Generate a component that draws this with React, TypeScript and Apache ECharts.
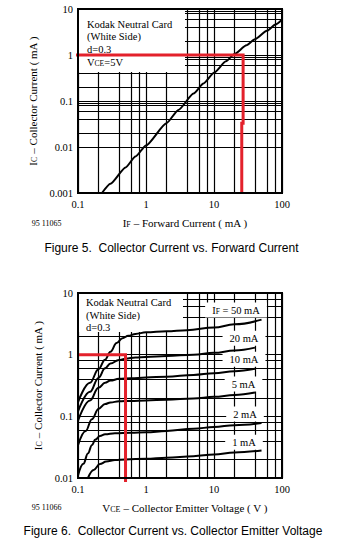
import React, { useEffect, useRef } from "react";
import * as echarts from "echarts";

// ---------- Figure 5 : Collector current vs forward current ----------
const fig5ForwardCurrent = [0.225, 0.3, 0.5, 0.7, 1, 2, 3, 5, 7, 10, 15, 20, 30, 40, 60, 80, 100];
const fig5CollectorCurrent = [0.001, 0.00159, 0.0036, 0.0062, 0.0108, 0.033, 0.064, 0.145, 0.24, 0.41, 0.73, 1.05, 1.62, 2.2, 3.35, 4.6, 5.85];
const fig5GuideIF = [0.086, 26.8, 26.8, 25.6, 25.6];
const fig5GuideIC = [1, 1, 0.033, 0.033, 0.00097];
const fig5GridX = [0.2, 0.4, 0.6, 0.8, 2, 4, 6, 8, 20, 40, 60, 80];
const fig5GridY = [0.002, 0.004, 0.006, 0.008, 0.009, 0.02, 0.04, 0.06, 0.08, 0.09, 0.2, 0.4, 0.6, 0.8, 0.9, 2, 4, 6, 8, 9];

// ---------- Figure 6 : Collector current vs collector emitter voltage ----------
const vce50 = [0.1, 0.15, 0.2, 0.25, 0.3, 0.37, 0.45, 0.55, 0.7, 1, 2, 4, 10, 20, 50];
const ic50 = [0.17, 0.35, 0.58, 0.83, 1.12, 1.55, 1.85, 2.02, 2.17, 2.3, 2.4, 2.5, 2.75, 3.1, 3.7];
const vce20 = [0.1, 0.15, 0.2, 0.25, 0.3, 0.4, 0.5, 0.7, 1, 2, 5, 10, 20, 40];
const ic20 = [0.12, 0.25, 0.42, 0.6, 0.72, 0.82, 0.86, 0.9, 0.92, 0.95, 1.0, 1.07, 1.17, 1.3];
const vce10 = [0.1, 0.15, 0.2, 0.25, 0.3, 0.4, 0.6, 1, 2, 5, 10, 20, 40];
const ic10 = [0.085, 0.18, 0.29, 0.35, 0.38, 0.405, 0.415, 0.425, 0.44, 0.47, 0.5, 0.54, 0.59];
const vce5 = [0.1, 0.13, 0.16, 0.2, 0.25, 0.3, 0.4, 0.6, 1, 2, 5, 10, 20, 40];
const ic5 = [0.034, 0.058, 0.09, 0.132, 0.158, 0.168, 0.175, 0.178, 0.181, 0.186, 0.195, 0.207, 0.222, 0.243];
const vce2 = [0.1, 0.12, 0.14, 0.16, 0.18, 0.21, 0.25, 0.35, 0.6, 1, 2, 5, 10, 20, 50];
const ic2 = [0.011, 0.017, 0.025, 0.034, 0.042, 0.048, 0.051, 0.053, 0.054, 0.055, 0.058, 0.063, 0.067, 0.072, 0.078];
const vce1 = [0.14, 0.17, 0.21, 0.26, 0.35, 0.5, 1, 2, 5, 10, 20, 50];
const ic1 = [0.01, 0.0135, 0.0168, 0.0185, 0.0195, 0.02, 0.0205, 0.0213, 0.0226, 0.024, 0.026, 0.028];
const fig6GuideVCE = [0.1, 0.5, 0.5];
const fig6GuideIC = [1, 1, 0.0086];
const fig6GridX = [0.2, 0.4, 0.6, 0.8, 2, 4, 6, 8, 20, 40, 60, 80];
const fig6GridY = [0.02, 0.04, 0.06, 0.08, 0.2, 0.4, 0.6, 0.8, 2, 4, 6, 8];

const serif = '"Liberation Serif", "Times New Roman", serif';
const sans = '"Liberation Sans", Arial, sans-serif';

const zip = (xs: number[], ys: number[]) => xs.map((x, i) => [x, ys[i]]);
const fmt = (v: number) => String(Number(Number(v).toPrecision(6)));

const rich = (size: number) => ({
  t: { fontFamily: serif, fontSize: size, color: "#000" },
  s: { fontFamily: serif, fontSize: size * 0.72, color: "#000", verticalAlign: "bottom" },
});

const GRID_W = 1.2;

function xAxis(gridIndex: number, name: string) {
  return {
    type: "log",
    logBase: 10,
    gridIndex,
    min: 0.1,
    max: 100,
    z: 0,
    axisLine: { show: false },
    axisTick: { show: false },
    splitLine: { show: true, lineStyle: { color: "#000", width: GRID_W } },
    axisLabel: { formatter: fmt, fontFamily: serif, fontSize: 10.5, color: "#000", margin: 6 },
    name,
    nameLocation: "middle",
    nameGap: 24,
    nameTextStyle: { rich: rich(11), padding: [0, 0, 0, 10] },
  };
}

function yAxis(gridIndex: number, min: number, max: number) {
  return {
    type: "log",
    logBase: 10,
    gridIndex,
    min,
    max,
    z: 0,
    axisLine: { show: false },
    axisTick: { show: false },
    splitLine: { show: true, lineStyle: { color: "#000", width: GRID_W } },
    axisLabel: { formatter: fmt, fontFamily: serif, fontSize: 10.5, color: "#000", margin: 5 },
    name: "{t|I}{s|C}{t| – Collector Current ( mA )}",
    nameLocation: "middle",
    nameRotate: 90,
    nameGap: 34,
    nameTextStyle: { rich: rich(11) },
  };
}

function gridSeries(idx: number, gx: number[], gy: number[]) {
  return {
    type: "line",
    xAxisIndex: idx,
    yAxisIndex: idx,
    z: 1,
    silent: true,
    symbol: "none",
    data: [],
    markLine: {
      z: 1,
      silent: true,
      symbol: ["none", "none"],
      label: { show: false },
      lineStyle: { color: "#000", width: GRID_W, type: "solid" },
      data: [...gx.map((v) => ({ xAxis: v })), ...gy.map((v) => ({ yAxis: v }))],
    },
  };
}

function curve(idx: number, xs: number[], ys: number[], smooth = 0.4) {
  return {
    type: "line",
    xAxisIndex: idx,
    yAxisIndex: idx,
    z: 5,
    silent: true,
    symbol: "none",
    smooth,
    smoothMonotone: "x",
    lineStyle: { color: "#000", width: 2 },
    data: zip(xs, ys),
  };
}

function guide(idx: number, xs: number[], ys: number[]) {
  return {
    type: "line",
    xAxisIndex: idx,
    yAxisIndex: idx,
    z: 6,
    silent: true,
    symbol: "none",
    clip: false,
    lineStyle: { color: "#e3212b", width: 3, join: "miter" },
    data: zip(xs, ys),
  };
}

const txt = (x: number, y: number, text: string, size: number, extra: any = {}) => ({
  type: "text",
  x,
  y,
  z: 4,
  silent: true,
  style: {
    text,
    fontFamily: serif,
    fontSize: size,
    fill: "#000",
    align: "left",
    verticalAlign: "middle",
    rich: rich(size),
    ...extra,
  },
});

const boxLabel = (x: number, y: number, text: string) =>
  txt(x, y, text, 10.5, { align: "center", backgroundColor: "#fff", padding: [2, 7] });

const option: any = {
  animation: false,
  backgroundColor: "#fff",
  grid: [
    { left: 78, top: 9, width: 204, height: 184, show: true, borderColor: "#000", borderWidth: 2, z: 7 },
    { left: 78, top: 293, width: 204, height: 185, show: true, borderColor: "#000", borderWidth: 2, z: 7 },
  ],
  xAxis: [
    xAxis(0, "{t|I}{s|F}{t| – Forward Current ( mA )}"),
    xAxis(1, "{t|V}{s|CE}{t| – Collector Emitter Voltage ( V )}"),
  ],
  yAxis: [yAxis(0, 0.001, 10), yAxis(1, 0.01, 10)],
  series: [
    gridSeries(0, fig5GridX, fig5GridY),
    gridSeries(1, fig6GridX, fig6GridY),
    curve(0, fig5ForwardCurrent, fig5CollectorCurrent, 0.2),
    curve(1, vce50, ic50),
    curve(1, vce20, ic20),
    curve(1, vce10, ic10),
    curve(1, vce5, ic5),
    curve(1, vce2, ic2),
    curve(1, vce1, ic1),
    guide(0, fig5GuideIF, fig5GuideIC),
    guide(1, fig6GuideVCE, fig6GuideIC),
  ],
  graphic: [
    { type: "rect", z: 3, silent: true, shape: { x: 79, y: 10, width: 106, height: 62 }, style: { fill: "#fff" } },
    txt(87, 24.7, "Kodak Neutral Card", 10.5),
    txt(87, 36.7, "(White Side)", 10.5),
    txt(87, 49, "d=0.3", 10.5),
    txt(87, 62, "{t|V}{s|CE}{t|=5V}", 10.5),
    { type: "rect", z: 3, silent: true, shape: { x: 79, y: 294, width: 104, height: 38 }, style: { fill: "#fff" } },
    txt(86, 302.7, "Kodak Neutral Card", 10.5),
    txt(86, 315.7, "(White Side)", 10.5),
    txt(86, 327.3, "d=0.3", 10.5),
    boxLabel(236, 310, "{t|I}{s|F}{t| = 50 mA}"),
    boxLabel(244, 338.3, "20 mA"),
    boxLabel(244, 359.3, "10 mA"),
    boxLabel(243.5, 384, "5 mA"),
    boxLabel(245, 414, "2 mA"),
    boxLabel(244, 442.3, "1 mA"),
    txt(31.7, 223.3, "95 11065", 8),
    txt(31.7, 507.3, "95 11066", 8),
    txt(171.5, 247.7, "Figure 5.  Collector Current vs. Forward Current", 12, { fontFamily: sans, align: "center", rich: {} }),
    txt(173, 530.7, "Figure 6.  Collector Current vs. Collector Emitter Voltage", 12, { fontFamily: sans, align: "center", rich: {} }),
  ],
};

export default function App() {
  const ref = useRef<HTMLDivElement>(null);
  useEffect(() => {
    const chart = echarts.init(ref.current!, null, { renderer: "svg" });
    chart.setOption(option);
    return () => chart.dispose();
  }, []);
  return (
    <div
      ref={ref}
      style={{ position: "absolute", left: 0, top: 0, width: 354, height: 549, background: "#fff" }}
    />
  );
}
